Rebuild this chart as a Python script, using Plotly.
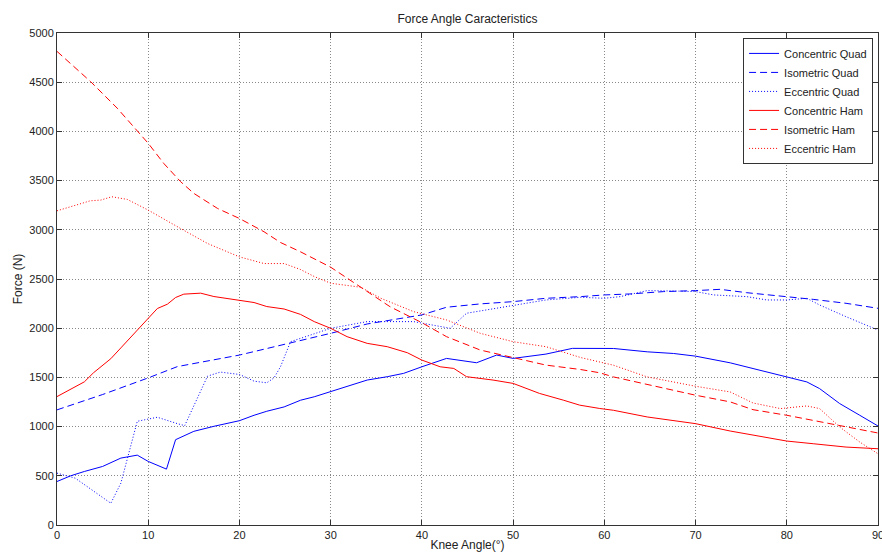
import plotly.graph_objects as go

# ---- data (knee angle in degrees, force in N) ----
cq_x = [0, 1.5, 3, 5, 7, 8.8, 10, 12, 13, 14, 15, 17.2, 20, 21.6, 23, 24.9, 26.7, 28.2, 30, 31.8,
        34, 36.2, 38, 40, 42.7, 46, 48.2, 50, 53.6, 56.5, 59.5, 61, 64.7, 67.6, 70, 73.8, 76.3,
        80, 82.2, 83.6, 85.8, 88, 90]
cq_y = [442, 500, 544, 595, 680, 710, 646, 568, 867, 910, 952, 1003, 1060, 1115, 1156, 1200, 1268,
        1303, 1354, 1405, 1473, 1507, 1541, 1608, 1693, 1649, 1727, 1693, 1737, 1795, 1795, 1794,
        1760, 1743, 1716, 1648, 1590, 1505, 1454, 1386, 1234, 1115, 1006]

iq_x = [0, 5, 10, 13.2, 20, 26.7, 30, 34, 40, 42.7, 46.4, 50, 53.6, 57.4, 60, 62.8, 66.5, 70,
        72.7, 75.6, 80, 82.9, 86.5, 90]
iq_y = [1170, 1326, 1495, 1610, 1727, 1870, 1948, 2043, 2135, 2213, 2247, 2270, 2304, 2321, 2338,
        2348, 2372, 2382, 2395, 2361, 2321, 2293, 2253, 2202]

eq_x = [0, 2, 5.9, 7, 8.8, 11, 13.2, 14, 16.5, 17.9, 20, 21.6, 23, 23.8, 24.5, 25.6, 30, 34, 39.1,
        41.3, 43.1, 44.9, 47.1, 50, 53.6, 57.4, 60, 61.75, 64.7, 67.6, 70, 72, 75.6, 77.8, 80,
        82.2, 83.6, 86.5, 90]
eq_y = [527, 476, 221, 425, 1054, 1095, 1030, 1010, 1513, 1554, 1530, 1462, 1445, 1496, 1608,
        1863, 1999, 2067, 2067, 2033, 1999, 2152, 2186, 2226, 2287, 2314, 2304, 2321, 2382, 2378,
        2372, 2338, 2321, 2287, 2287, 2304, 2236, 2117, 1981]

ch_x = [0, 3, 4, 5.9, 7, 9.2, 10, 11, 12.1, 13, 13.9, 15.75, 17.2, 19.8, 21.6, 23, 24.9, 26.7,
        28.2, 30, 31.8, 34, 36.2, 38.4, 40, 42, 43.5, 44.9, 47.8, 50, 52.9, 55.5, 57.3, 59.5, 61,
        64.7, 70, 73.8, 76.3, 80, 82.9, 86.5, 90]
ch_y = [1305, 1455, 1547, 1690, 1800, 2023, 2108, 2200, 2244, 2312, 2346, 2356, 2322, 2288, 2261,
        2220, 2195, 2140, 2067, 1999, 1914, 1846, 1812, 1751, 1676, 1608, 1591, 1507, 1473, 1439,
        1337, 1269, 1218, 1184, 1166, 1098, 1030, 955, 911, 853, 826, 792, 775]

ih_x = [0, 3.66, 6.6, 8.8, 10, 11.7, 13.55, 15, 17.6, 20, 22.7, 24.5, 26.7, 30, 34, 36.5, 40,
        42.7, 46.4, 50, 53.6, 57.4, 59.5, 61, 64.7, 70, 73.8, 76.3, 80, 82.9, 86.5, 90]
ih_y = [4813, 4508, 4236, 4000, 3879, 3675, 3489, 3370, 3217, 3115, 2980, 2871, 2776, 2620, 2372,
        2219, 2056, 1914, 1778, 1700, 1625, 1580, 1547, 1505, 1431, 1319, 1251, 1172, 1115, 1064,
        996, 935]

eh_x = [0, 3.66, 4.8, 6, 7.7, 10, 13.55, 16.5, 20, 22.7, 24.9, 26.7, 28.2, 30, 33.3, 35.5, 39.1,
        42.7, 46.4, 50, 53.6, 57.4, 61, 64.7, 70, 73.8, 76.3, 79.3, 82.2, 83.6, 85.8, 88, 90]
eh_y = [3193, 3295, 3302, 3336, 3309, 3200, 3013, 2861, 2725, 2657, 2657, 2596, 2525, 2457, 2416,
        2304, 2168, 2084, 1948, 1863, 1812, 1702, 1624, 1505, 1410, 1352, 1240, 1183, 1210, 1183,
        996, 843, 724]

x_ticks = [0, 10, 20, 30, 40, 50, 60, 70, 80, 90]
y_ticks = [0, 500, 1000, 1500, 2000, 2500, 3000, 3500, 4000, 4500, 5000]

series = [
    ("Concentric Quad", cq_x, cq_y, "#0000FF", "solid"),
    ("Isometric Quad", iq_x, iq_y, "#0000FF", "7px,4px"),
    ("Eccentric Quad", eq_x, eq_y, "#0000FF", "1px,2px"),
    ("Concentric Ham", ch_x, ch_y, "#FF0000", "solid"),
    ("Isometric Ham", ih_x, ih_y, "#FF0000", "7px,4px"),
    ("Eccentric Ham", eh_x, eh_y, "#FF0000", "1px,2px"),
]

fig = go.Figure()
for name, xs, ys, col, dash in series:
    fig.add_trace(go.Scatter(x=xs, y=ys, mode="lines", name=name,
                             line=dict(color=col, width=1, dash=dash)))

font_family = "Liberation Sans, Arial, sans-serif"
axis_common = dict(
    showline=True, linecolor="#333333", linewidth=1, mirror="ticks",
    ticks="inside", ticklen=5, tickcolor="#333333",
    showgrid=True, gridcolor="#888888", griddash="1px,2px", gridwidth=1,
    zeroline=False, automargin=False, ticklabeloverflow="allow",
    tickfont=dict(size=11, color="#222222", family=font_family),
)

fig.update_layout(
    width=882, height=556,
    margin=dict(l=57, r=4, t=33, b=31),
    paper_bgcolor="white", plot_bgcolor="white",
    font=dict(family=font_family, size=11, color="#222222"),
    title=dict(text="Force Angle Caracteristics", x=(57 + 878) / 2 / 882, xanchor="center",
               y=1 - 19 / 556, yanchor="middle", yref="container",
               font=dict(size=12, color="#222222")),
    xaxis=dict(range=[0, 90], tickvals=x_ticks, ticktext=[str(v) for v in x_ticks],
               title=dict(text="Knee Angle(°)", standoff=0, font=dict(size=12)),
               **axis_common),
    yaxis=dict(range=[0, 5000], tickvals=y_ticks, ticktext=[str(v) for v in y_ticks],
               title=dict(text="Force (N)", standoff=4, font=dict(size=12)),
               **axis_common),
    legend=dict(x=0.994, xanchor="right", y=0.99, yanchor="top",
                bgcolor="white", bordercolor="#333333", borderwidth=1,
                font=dict(size=11, color="#222222"), itemwidth=30,
                tracegroupgap=0),
    showlegend=True,
)

fig.write_html("out.html", config={"displayModeBar": False},
               post_script="document.body.style.margin='0px';document.body.style.overflow='hidden';")
